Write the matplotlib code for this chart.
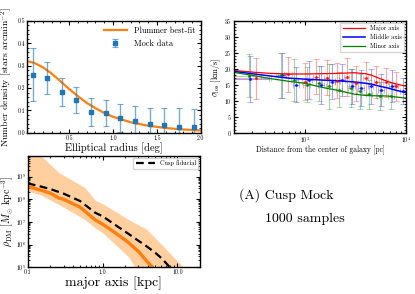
import numpy as np
import matplotlib
matplotlib.use("Agg")
import matplotlib.pyplot as plt
from matplotlib.ticker import AutoMinorLocator, FixedLocator, FixedFormatter, LogLocator, NullFormatter, MultipleLocator

plt.rcParams.update({
    "font.family": "serif",
    "font.serif": ["cmr10", "DejaVu Serif"],
    "mathtext.fontset": "cm",
    "axes.formatter.use_mathtext": True,
    "xtick.direction": "in",
    "ytick.direction": "in",
    "xtick.top": True,
    "ytick.right": True,
    "axes.linewidth": 1.0,
    "xtick.major.size": 3,
    "ytick.major.size": 3,
    "xtick.minor.size": 1.5,
    "ytick.minor.size": 1.5,
    "xtick.labelsize": 4.2,
    "ytick.labelsize": 4.2,
})

# ---------------- data: surface density ----------------
r_bins = [0.083, 0.25, 0.417, 0.583, 0.75, 0.917, 1.083, 1.25, 1.417, 1.583, 1.75, 1.917]
dens = [0.26, 0.245, 0.181, 0.148, 0.093, 0.089, 0.065, 0.054, 0.039, 0.037, 0.027, 0.025]
dens_err = [0.117, 0.07, 0.063, 0.058, 0.064, 0.06, 0.063, 0.065, 0.074, 0.073, 0.082, 0.08]
plummer_r = [0.02, 0.1, 0.2, 0.3, 0.4, 0.5, 0.6, 0.7, 0.8, 0.9, 1.0, 1.2, 1.4, 1.6, 1.8, 2.0]
plummer_d = [0.320, 0.313, 0.293, 0.265, 0.231, 0.196, 0.164, 0.134, 0.110, 0.089, 0.072,
             0.0475, 0.0318, 0.0217, 0.0152, 0.0108]

# ---------------- data: velocity dispersion ----------------
maj_x = [330, 690, 1000, 1300, 1650, 2100, 2600, 3200, 4000, 5100, 6300, 8000]
maj_y = [17.0, 18.3, 16.0, 17.5, 17.2, 16.3, 17.5, 15.5, 17.0, 16.0, 15.8, 14.5]
maj_yerr = [6.3, 5.5, 5.8, 5.5, 5.5, 5.5, 6.0, 5.5, 5.0, 5.0, 4.5, 4.5]
maj_xerr = [130, 60, 60, 80, 100, 120, 150, 180, 220, 280, 350, 450]
mid_x = [290, 600, 820, 1100, 1450, 1850, 2350, 2950, 3600, 4500, 5700, 7300, 9300]
mid_y = [16.8, 18.0, 15.0, 16.5, 15.0, 16.0, 16.5, 14.5, 14.0, 14.5, 13.5, 14.5, 13.0]
mid_yerr = [7.3, 7.0, 5.5, 6.0, 6.0, 5.5, 5.0, 5.5, 5.5, 5.5, 5.0, 5.0, 4.0]
mid_xerr = [150, 60, 60, 80, 100, 120, 150, 180, 220, 280, 350, 450, 500]
min_x = [280, 580, 790, 1050, 1380, 1750, 2200, 2850, 3500, 4300, 5500, 7100]
min_y = [17.8, 18.0, 16.5, 15.0, 15.5, 14.5, 13.5, 14.0, 13.0, 12.0, 11.5, 11.5]
min_yerr = [6.7, 7.0, 6.5, 5.5, 5.5, 7.0, 5.5, 6.0, 5.5, 4.5, 4.5, 4.0]
min_xerr = [90, 60, 60, 80, 100, 120, 150, 180, 220, 280, 350, 450]

model_x = [200, 300, 450, 700, 1000, 1500, 2100, 3100, 4000, 4600, 5500, 6700, 8000, 10000]
maj_model = [19.5, 19.0, 18.6, 18.4, 18.4, 18.5, 18.6, 18.8, 18.5, 18.0, 17.0, 16.0, 15.3, 14.6]
mid_model = [19.2, 18.5, 17.8, 17.1, 16.8, 16.5, 16.3, 15.9, 15.5, 15.2, 14.6, 14.0, 13.3, 12.6]
min_model = [18.9, 18.0, 17.0, 16.1, 15.5, 14.2, 13.3, 12.1, 11.7, 11.6, 11.6, 11.5, 11.2, 10.9]

# ---------------- data: DM density (log10 values) ----------------
fid_r = [0.1, 0.15, 0.2, 0.26, 0.3, 0.5, 0.8, 1.0, 1.5, 2.2, 3.0, 3.7, 5.0, 6.2, 7.8, 9.5]
fid_logrho = [8.70, 8.56, 8.45, 8.32, 8.25, 7.92, 7.40, 7.25, 6.85, 6.48, 6.17, 5.97, 5.65, 5.38, 5.02, 4.7]
med_r = [0.1, 0.15, 0.2, 0.26, 0.3, 0.5, 0.8, 1.0, 1.5, 2.0, 2.23, 3.0, 3.7, 4.6, 5.5]
med_logrho = [8.56, 8.40, 8.27, 8.05, 8.00, 7.65, 7.08, 6.90, 6.50, 6.20, 6.08, 5.70, 5.35, 5.0, 4.7]
band_r = [0.1, 0.146, 0.26, 0.58, 0.8, 1.0, 2.0, 2.23, 2.7, 3.2, 3.7, 6.2, 8.0, 12.0, 14.0]
band_hi = [10.3, 9.95, 9.18, 8.51, 7.95, 7.80, 7.20, 7.10, 6.95, 6.82, 6.73, 5.99, 5.60, 5.00, 4.70]
band_lo = [8.36, 8.20, 7.77, 7.10, 6.73, 6.52, 5.60, 5.45, 5.00, 4.70, 4.50, 4.00, 4.00, 4.00, 4.00]

fig = plt.figure(figsize=(4.15, 2.94), dpi=100)

# ---- top-left ----
ax1 = fig.add_axes([0.065, 0.548, 0.419, 0.381])
ax1.plot(plummer_r, plummer_d, color="#ff7f0e", lw=1.6, label="Plummer best-fit")
eb = ax1.errorbar(r_bins, dens, yerr=dens_err, fmt="s", color="#1f77b4", ms=3,
                  ecolor="#1f77b4", elinewidth=1.0, capsize=2, capthick=0.8, label="Mock data")
for c in eb[1] + eb[2]:
    c.set_alpha(0.6)
ax1.set_xlim(0.02, 2.0)
ax1.set_ylim(0, 0.5)
ax1.xaxis.set_major_locator(FixedLocator([0.5, 1.0, 1.5, 2.0]))
ax1.yaxis.set_major_locator(MultipleLocator(0.1))
ax1.xaxis.set_minor_locator(AutoMinorLocator(5))
ax1.yaxis.set_minor_locator(AutoMinorLocator(5))
ax1.xaxis.set_major_formatter(plt.FuncFormatter(lambda v, p: f"{v:.1f}"))
ax1.yaxis.set_major_formatter(plt.FuncFormatter(lambda v, p: f"{v:.1f}"))
ax1.set_xlabel("Elliptical radius [deg]", fontsize=7.5, labelpad=1)
ax1.set_ylabel(r"Number density [stars arcmin$^{-2}$]", fontsize=7, labelpad=2)
ax1.tick_params(pad=1.5)
ax1.legend(loc="upper right", frameon=False, fontsize=6, handlelength=2.8, borderaxespad=0.3)

# ---- top-right ----
ax2 = fig.add_axes([0.564, 0.548, 0.414, 0.381])
for xs, ys, ye, xe, col in [(maj_x, maj_y, maj_yerr, maj_xerr, "red"),
                            (mid_x, mid_y, mid_yerr, mid_xerr, "blue"),
                            (min_x, min_y, min_yerr, min_xerr, "green")]:
    e = ax2.errorbar(xs, ys, yerr=ye, xerr=xe, fmt="o", ms=1.2, color=col, ecolor=col,
                     elinewidth=0.8, capsize=2, capthick=0.6)
    for c in e[1] + e[2]:
        c.set_alpha(0.35)
    e[0].set_alpha(0.7)
ax2.plot(model_x, maj_model, color="red", lw=0.9, label="Major axis")
ax2.plot(model_x, mid_model, color="blue", lw=1.1, label="Middle axis")
ax2.plot(model_x, min_model, color="green", lw=0.9, label="Minor axis")
ax2.set_xscale("log")
ax2.set_xlim(200, 10000)
ax2.set_ylim(0, 35)
ax2.yaxis.set_major_locator(MultipleLocator(5))
ax2.yaxis.set_minor_locator(AutoMinorLocator(5))
ax2.set_xlabel("Distance from the center of galaxy [pc]", fontsize=5.5, labelpad=1)
ax2.set_ylabel(r"$\sigma_{\rm los}$ [km/s]", fontsize=6, labelpad=1)
ax2.tick_params(pad=1.5)
leg2 = ax2.legend(loc="upper right", fontsize=4.5, handlelength=3.5, fancybox=False,
                  edgecolor="0.8", borderaxespad=0.3)

# ---- bottom-left ----
ax3 = fig.add_axes([0.067, 0.091, 0.415, 0.378])
ax3.fill_between(band_r, 10 ** np.array(band_lo), 10 ** np.array(band_hi),
                 color="#ffcf9f", lw=0)
ax3.plot(med_r, 10 ** np.array(med_logrho), color="#ff7f0e", lw=2.4)
ax3.plot(fid_r, 10 ** np.array(fid_logrho), color="black", lw=1.6, ls=(0, (3.5, 2)),
         label="Cusp fiducial")
ax3.set_xscale("log")
ax3.set_yscale("log")
ax3.set_xlim(0.1, 20)
ax3.set_ylim(1e5, 8e9)
ax3.xaxis.set_major_locator(FixedLocator([0.1, 1.0, 10.0]))
ax3.xaxis.set_major_formatter(FixedFormatter(["0.1", "1.0", "10.0"]))
ax3.xaxis.set_minor_formatter(NullFormatter())
ax3.yaxis.set_major_locator(LogLocator(base=10, numticks=10))
ax3.set_xlabel("major axis [kpc]", fontsize=10, labelpad=1)
ax3.set_ylabel(r"$\rho_{\rm DM}$ [$M_{\odot}$ kpc$^{-3}$]", fontsize=7.2, labelpad=0.5)
ax3.tick_params(pad=1.5)
ax3.legend(loc="upper right", fontsize=4.5, handlelength=3.0, fancybox=False,
           edgecolor="0.8", borderaxespad=0.3)

fig.text(0.576, 0.337, "(A) Cusp Mock", fontsize=10, va="center", ha="left")
fig.text(0.639, 0.255, "1000 samples", fontsize=10, va="center", ha="left")

fig.savefig("out.png", dpi=100)
